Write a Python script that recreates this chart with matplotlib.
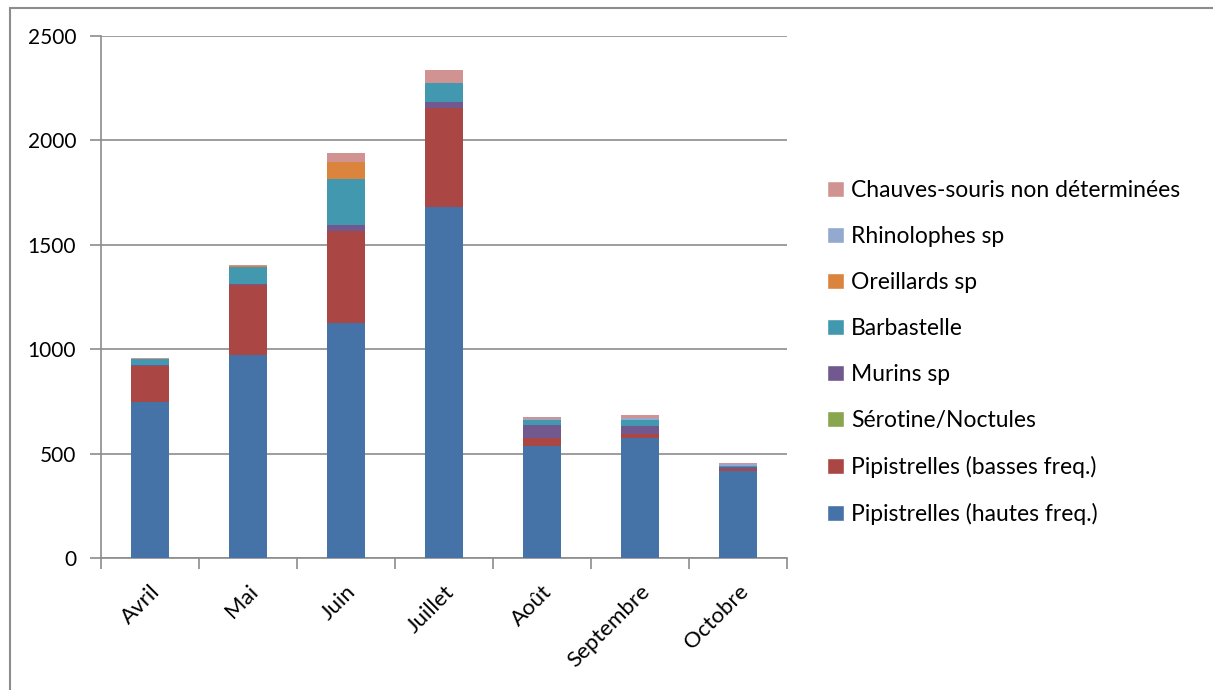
import matplotlib
matplotlib.use('Agg')
import matplotlib.pyplot as plt
import numpy as np
from matplotlib.patches import Rectangle, Patch

# Monthly bat contacts per group
mois = ['Avril', 'Mai', 'Juin', 'Juillet', 'Août', 'Septembre', 'Octobre']

pip_hautes = [745, 972, 1125, 1680, 537, 577, 417]
pip_basses = [175, 335, 440, 475, 40, 17, 7]
serotine = [0, 0, 0, 0, 0, 0, 0]
murins = [5, 5, 30, 27, 60, 37, 12]
barbastelle = [27, 80, 220, 93, 24, 30, 7]
oreillards = [0, 8, 80, 0, 0, 0, 0]
rhinolophes = [0, 0, 0, 0, 4, 11, 6]
chauves_souris = [5, 5, 45, 60, 9, 11, 6]

noms = ['Pipistrelles (hautes freq.)', 'Pipistrelles (basses freq.)', 'Sérotine/Noctules',
        'Murins sp', 'Barbastelle', 'Oreillards sp', 'Rhinolophes sp',
        'Chauves-souris non déterminées']
series = [pip_hautes, pip_basses, serotine, murins, barbastelle, oreillards,
          rhinolophes, chauves_souris]
couleurs = ['#4572A7', '#AA4643', '#89A54E', '#71588F', '#4198AF', '#DB843D',
            '#93A9CF', '#D19392']

plt.rcParams['font.family'] = ['Lato', 'DejaVu Sans']

fig = plt.figure(figsize=(12.13, 6.9), dpi=100)
ax = fig.add_axes([0.0833, 0.1913, 0.5655, 0.7565])

x = np.arange(len(mois))
bas = np.zeros(len(mois))
for nom, vals, c in zip(noms, series, couleurs):
    vals = np.array(vals, dtype=float)
    ax.bar(x, vals, width=0.39, bottom=bas, color=c, label=nom, zorder=3)
    bas += vals

ax.set_xlim(-0.5, len(mois) - 0.5)
ax.set_ylim(0, 2500)
ax.set_yticks(np.arange(0, 2501, 500))
ax.yaxis.grid(True, color='#8c8c8c', linewidth=1.2, zorder=0)

# category boundaries get the tick marks, labels sit at the centres
ax.set_xticks(np.arange(-0.5, len(mois), 1.0))
ax.set_xticklabels([])
ax.set_xticks(x, minor=True)
ax.set_xticklabels(mois, minor=True, rotation=45, ha='right', rotation_mode='anchor',
                   fontsize=16)
ax.tick_params(axis='x', which='minor', length=0, pad=17)
ax.tick_params(axis='x', which='major', length=8, color='#8c8c8c', width=1.2)
ax.tick_params(axis='y', length=8, color='#8c8c8c', width=1.2, labelsize=15, pad=10)

for s in ['top', 'right']:
    ax.spines[s].set_visible(False)
for s in ['left', 'bottom']:
    ax.spines[s].set_color('#8c8c8c')
    ax.spines[s].set_linewidth(1.2)

# legend, top entry = last stacked series
handles = [Patch(facecolor=c, edgecolor='white') for c in couleurs][::-1]
fig.legend(handles, noms[::-1], loc='upper left', bbox_to_anchor=(0.6646, 0.769),
           frameon=False, fontsize=16.5, handlelength=0.73, handleheight=0.73,
           handletextpad=0.33, labelspacing=1.09)

# outer frame of the chart area
fig.add_artist(Rectangle((0.008, -0.1), 1.1, 1.088, transform=fig.transFigure,
                         fill=False, edgecolor='#8c8c8c', linewidth=1.5))

fig.savefig('out.png', dpi=100)
